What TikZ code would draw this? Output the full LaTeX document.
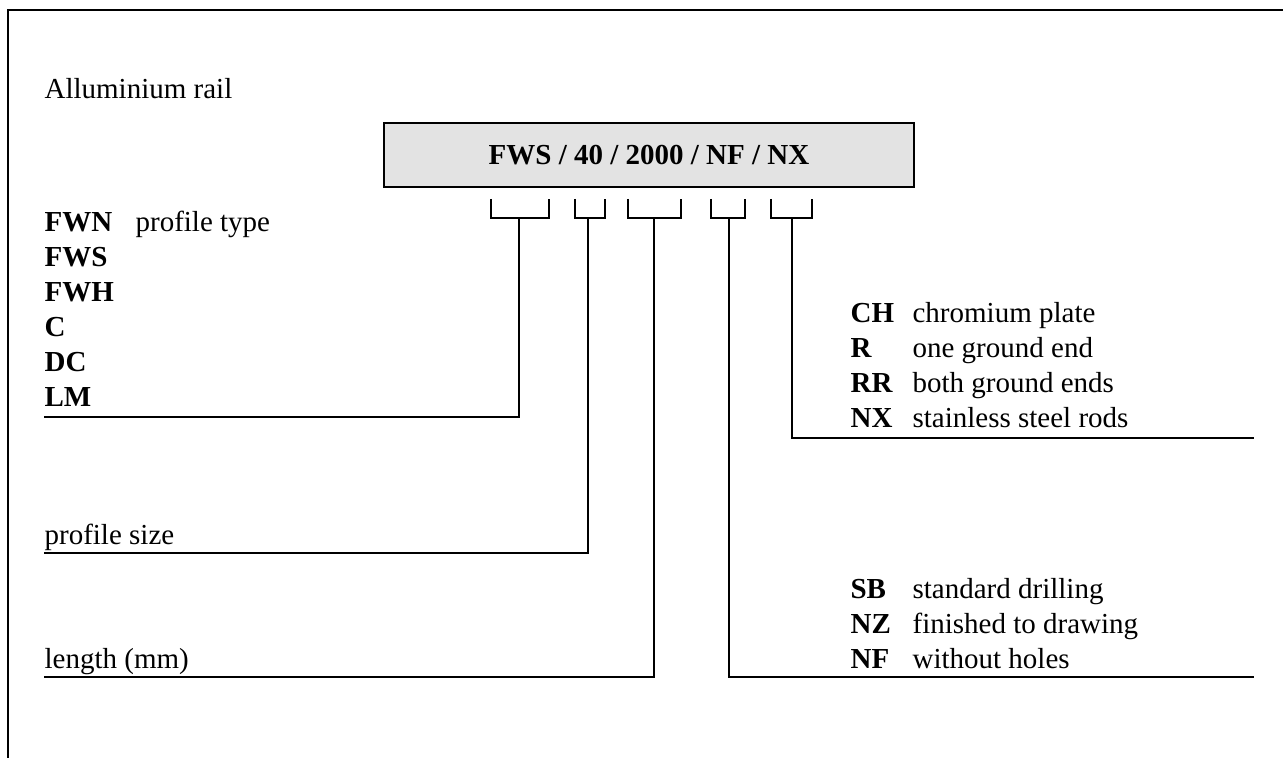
\documentclass[tikz,border=0pt]{standalone}
\usepackage{fontspec}
\setmainfont{Liberation Serif}

\begin{document}
\begin{tikzpicture}[x=0.5pt, y=-0.5pt, line width=0.6pt,
	every node/.style={font=\fontsize{14.5}{17.4}\selectfont, inner sep=0pt, anchor=base west},
	code/.style={font=\fontsize{14.5}{17.4}\selectfont\bfseries}]
	\useasboundingbox (0,0) rectangle (1283,758);
	\draw[line width=0.8pt] (8,758) -- (8,10) -- (1283,10);
	\node at (44,99) (title) {Alluminium rail};
	\node[draw, fill=black!11, anchor=center, minimum width=265pt, minimum height=32pt, code] (ref) at (649,155) {FWS / 40 / 2000 / NF / NX};
	% brackets under the code
	\foreach \l/\r/\m [count=\i] in {491/549/519, 575/605/588, 628/681/654, 711/745/729, 771/812/792} {
		\draw (\l,199) -- (\l,218) -- (\r,218) -- (\r,199);
		\coordinate (b\i) at (\m,218);
	}
	\coordinate (e1) at (44,417);
	\coordinate (e2) at (44,553);
	\coordinate (e3) at (44,677);
	\coordinate (e4) at (1254,677);
	\coordinate (e5) at (1254,438);
	\foreach \i in {1,...,5} {\draw (b\i) |- (e\i);}
	% profile type
	\foreach \c [count=\i] in {FWN,FWS,FWH,C,DC,LM} {\node[code] (type\i) at (44,{232+35*(\i-1)}) {\c};}
	\node (typetxt) at (135,232) {profile type};
	\node (size) at (44,544) {profile size};
	\node (len) at (44,668) {length (mm)};
	% finish
	\foreach \c/\t [count=\i] in {CH/chromium plate, R/one ground end, RR/both ground ends, NX/stainless steel rods} {
		\node[code] (fin\i) at (850,{323+35*(\i-1)}) {\c};
		\node (fintxt\i) at (912,{323+35*(\i-1)}) {\t};
	}
	% drilling
	\foreach \c/\t [count=\i] in {SB/standard drilling, NZ/finished to drawing, NF/without holes} {
		\node[code] (dr\i) at (850,{598+35*(\i-1)}) {\c};
		\node (drtxt\i) at (912,{598+35*(\i-1)}) {\t};
	}
\end{tikzpicture}
\end{document}
